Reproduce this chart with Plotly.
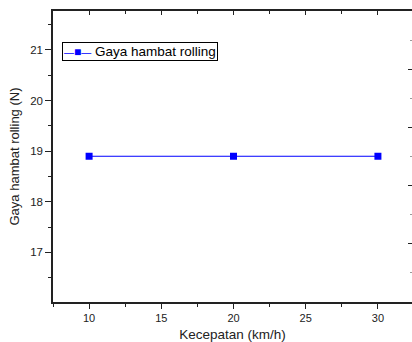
import plotly.graph_objects as go

kecepatan = [10, 20, 30]
gaya_hambat = [18.9, 18.9, 18.9]
series_name = "Gaya hambat rolling"
x_title = "Kecepatan (km/h)"
y_title = "Gaya hambat rolling (N)"

axis_col = "#222222"
font = "Liberation Sans, Arial, sans-serif"
blue = "#0000FF"

fig = go.Figure()
fig.add_trace(go.Scatter(
    x=kecepatan, y=gaya_hambat, mode="lines+markers", name=series_name,
    line=dict(color=blue, width=1),
    marker=dict(symbol="square", size=7, color=blue),
    showlegend=False,
))
fig.add_trace(go.Scatter(x=[None], y=[None], xaxis="x2", yaxis="y2",
                         showlegend=False, hoverinfo="skip"))

# legend box (compact, as in the original)
fig.add_annotation(
    xref="paper", yref="paper", x=0.025, y=0.893, xanchor="left", yanchor="top",
    text=(f'<span style="color:{blue};font-size:10px">—</span>'
          f'<span style="color:{blue};font-size:12px">■</span>'
          f'<span style="color:{blue};font-size:10px">—</span> ' + series_name),
    showarrow=False, align="left",
    font=dict(size=13.5, color="#000000", family=font),
    bordercolor="#000000", borderwidth=1, borderpad=1, bgcolor="white",
)

fig.update_layout(
    width=412, height=342,
    margin=dict(l=53, r=0, t=11, b=40, autoexpand=False),
    paper_bgcolor="white", plot_bgcolor="white",
    font=dict(family=font, size=11.5, color="#222222"),
    showlegend=False,
    xaxis=dict(range=[7.5, 32.36], dtick=5, tick0=0, showgrid=False, zeroline=False,
               automargin=False,
               showline=True, linecolor=axis_col, linewidth=1.5,
               ticks="outside", ticklen=5, tickwidth=1.2, tickcolor=axis_col,
               minor=dict(dtick=2.5, tick0=0, ticks="outside", ticklen=3,
                          tickcolor=axis_col, tickwidth=1),
               title=dict(text=x_title, font=dict(size=13.5), standoff=15),
               tickfont=dict(size=11)),
    xaxis2=dict(range=[7.5, 32.36], overlaying="x", side="top", dtick=5, tick0=0,
                showgrid=False, zeroline=False, showticklabels=False, automargin=False,
                showline=True, linecolor=axis_col, linewidth=1.5,
                ticks="inside", ticklen=4, tickwidth=1.2, tickcolor=axis_col,
                minor=dict(dtick=2.5, tick0=0, ticks="inside", ticklen=3,
                           tickcolor=axis_col, tickwidth=1)),
    yaxis=dict(range=[16.02, 21.77], dtick=1, tick0=0, showgrid=False, zeroline=False,
               automargin=False,
               showline=True, linecolor=axis_col, linewidth=1.5,
               ticks="outside", ticklen=6, tickwidth=1.2, tickcolor=axis_col,
               minor=dict(dtick=0.5, tick0=0, ticks="outside", ticklen=3,
                          tickcolor=axis_col, tickwidth=1),
               title=dict(text=y_title, font=dict(size=13), standoff=8),
               tickfont=dict(size=11.5)),
    yaxis2=dict(range=[-0.017, 5.0], overlaying="y", side="right", dtick=1, tick0=0,
                showgrid=False, zeroline=False, showticklabels=False, showline=False,
                automargin=False,
                ticks="inside", ticklen=4, tickwidth=1.2, tickcolor=axis_col,
                minor=dict(dtick=0.5, tick0=0, ticks="inside", ticklen=2,
                           tickcolor="#999999", tickwidth=1)),
)

fig.write_html("out.html")
